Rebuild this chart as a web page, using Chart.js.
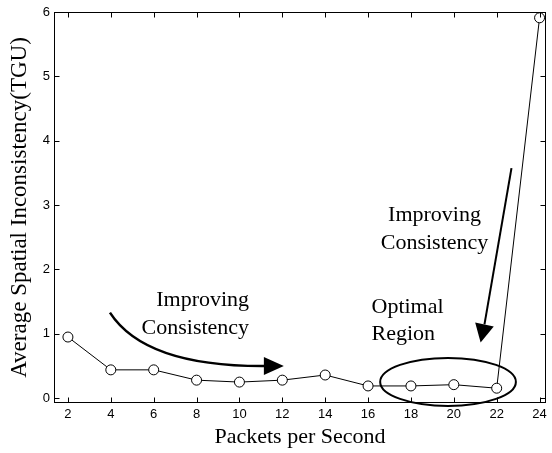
<!DOCTYPE html>
<html>
<head>
<meta charset="utf-8">
<script src="https://cdn.jsdelivr.net/npm/chart.js@4/dist/chart.umd.min.js"></script>
<style>
  html, body { margin: 0; padding: 0; background: #fff; }
  canvas { display: block; }
</style>
</head>
<body>
<canvas id="chart" width="552" height="453"></canvas>
<script>
// Measured consistency versus sending rate
const packetRates   = [2, 4, 6, 8, 10, 12, 14, 16, 18, 20, 22, 24];
const inconsistency = [0.95, 0.44, 0.44, 0.28, 0.25, 0.28, 0.36, 0.19, 0.19, 0.21, 0.155, 5.91];

// Axis ticks and limits
const xTicks = [2, 4, 6, 8, 10, 12, 14, 16, 18, 20, 22, 24];
const yTicks = [0, 1, 2, 3, 4, 5, 6];
const xLimits = [1.35, 24.3];
const yLimits = [-0.075, 6];

// Callout texts
const leftNoteLines  = ['Improving', 'Consistency'];
const rightNoteLines = ['Improving', 'Consistency'];
const regionLines    = ['Optimal', 'Region'];

// Callout anchors, in axis units
const leftNoteAnchor  = { x: 10.45, y: [1.425, 1.0] };     // right-aligned baselines
const rightNoteAnchor = { x: 19.10, y: [2.745, 2.317] };   // centred baselines
const regionAnchor    = { x: 16.16, y: [1.323, 0.908] };   // left-aligned baselines
const curvedArrow   = { start: [3.96, 1.33], ctrl: [5.6, 0.49], base: [11.14, 0.50], tip: [12.07, 0.50] };
const straightArrow = { start: [22.69, 3.575], base: [21.43, 1.146], tip: [21.25, 0.866] };
const optimalRegion = { cx: 19.73, cy: 0.253, rx: 3.165, ry: 0.373 };

const serif = '"Liberation Serif", "Times New Roman", serif';
const sans  = '"Liberation Sans", Arial, Helvetica, sans-serif';

const frameAndNotes = {
  id: 'frameAndNotes',
  afterDraw(chart) {
    const { ctx, chartArea: a, scales: { x, y } } = chart;
    const px = v => x.getPixelForValue(v);
    const py = v => y.getPixelForValue(v);
    ctx.save();

    // box with inward ticks on all sides
    ctx.strokeStyle = '#000';
    ctx.lineWidth = 1;
    const L = Math.round(a.left) + 0.5, R = Math.round(a.right) - 0.5;
    const T = Math.round(a.top) + 0.5, B = Math.round(a.bottom) - 0.5;
    ctx.strokeRect(L, T, R - L, B - T);
    const tl = 5;
    ctx.beginPath();
    x.ticks.forEach(t => {
      const xx = Math.round(px(t.value)) + 0.5;
      ctx.moveTo(xx, B); ctx.lineTo(xx, B - tl);
      ctx.moveTo(xx, T); ctx.lineTo(xx, T + tl);
    });
    y.ticks.forEach(t => {
      const yy = Math.round(py(t.value)) + 0.5;
      ctx.moveTo(L, yy); ctx.lineTo(L + tl, yy);
      ctx.moveTo(R, yy); ctx.lineTo(R - tl, yy);
    });
    ctx.stroke();

    // callout texts
    ctx.fillStyle = '#000';
    ctx.font = '22px ' + serif;
    ctx.textBaseline = 'alphabetic';
    ctx.textAlign = 'right';
    leftNoteLines.forEach((s, i) => ctx.fillText(s, px(leftNoteAnchor.x), py(leftNoteAnchor.y[i])));
    ctx.textAlign = 'center';
    rightNoteLines.forEach((s, i) => ctx.fillText(s, px(rightNoteAnchor.x), py(rightNoteAnchor.y[i])));
    ctx.textAlign = 'left';
    regionLines.forEach((s, i) => ctx.fillText(s, px(regionAnchor.x), py(regionAnchor.y[i])));

    const head = (base, tip, halfW) => {
      const bx = px(base[0]), by = py(base[1]), tx = px(tip[0]), ty = py(tip[1]);
      const dx = tx - bx, dy = ty - by, len = Math.hypot(dx, dy);
      const nx = -dy / len * halfW, ny = dx / len * halfW;
      ctx.beginPath();
      ctx.moveTo(tx, ty);
      ctx.lineTo(bx + nx, by + ny);
      ctx.lineTo(bx - nx, by - ny);
      ctx.closePath();
      ctx.fill();
    };

    // curved arrow along the low-rate part of the curve
    ctx.lineWidth = 2.5;
    ctx.beginPath();
    ctx.moveTo(px(curvedArrow.start[0]), py(curvedArrow.start[1]));
    ctx.quadraticCurveTo(px(curvedArrow.ctrl[0]), py(curvedArrow.ctrl[1]),
                         px(curvedArrow.base[0]) + 1, py(curvedArrow.base[1]));
    ctx.stroke();
    head(curvedArrow.base, curvedArrow.tip, 9);

    // straight arrow down towards the optimal region
    ctx.lineWidth = 2;
    ctx.beginPath();
    ctx.moveTo(px(straightArrow.start[0]), py(straightArrow.start[1]));
    ctx.lineTo(px(straightArrow.base[0]), py(straightArrow.base[1]));
    ctx.stroke();
    head(straightArrow.base, straightArrow.tip, 9.5);

    // ellipse round the optimal region
    const cx = px(optimalRegion.cx), cy = py(optimalRegion.cy);
    const rx = px(optimalRegion.cx + optimalRegion.rx) - cx;
    const ry = cy - py(optimalRegion.cy + optimalRegion.ry);
    ctx.lineWidth = 2;
    ctx.beginPath();
    ctx.ellipse(cx, cy, rx, ry, 0, 0, Math.PI * 2);
    ctx.stroke();

    ctx.restore();
  }
};

new Chart(document.getElementById('chart'), {
  type: 'line',
  data: {
    datasets: [{
      data: packetRates.map((r, i) => ({ x: r, y: inconsistency[i] })),
      borderColor: '#000',
      borderWidth: 1,
      backgroundColor: '#fff',
      pointStyle: 'circle',
      pointRadius: 5,
      pointBorderWidth: 1,
      pointBackgroundColor: '#fff',
      pointBorderColor: '#000',
      tension: 0,
      clip: false
    }]
  },
  options: {
    responsive: false,
    devicePixelRatio: 1,
    animation: false,
    layout: { padding: { top: 12, right: 3, left: 0, bottom: 0 } },
    plugins: { legend: { display: false }, tooltip: { enabled: false } },
    scales: {
      x: {
        type: 'linear',
        min: xLimits[0],
        max: xLimits[1],
        afterBuildTicks: s => { s.ticks = xTicks.map(v => ({ value: v })); },
        afterFit: s => { s.height = 50; },
        grid: { display: false, drawTicks: false },
        border: { display: false },
        ticks: { color: '#000', padding: 4, maxRotation: 0, autoSkip: false,
                 font: { family: sans, size: 13 } },
        title: { display: true, text: 'Packets per Second', color: '#000',
                 font: { family: serif, size: 22, lineHeight: 1.2 }, padding: { bottom: 3, top: 0 } }
      },
      y: {
        type: 'linear',
        min: yLimits[0],
        max: yLimits[1],
        afterBuildTicks: s => { s.ticks = yTicks.map(v => ({ value: v })); },
        afterFit: s => { s.width = 54; },
        grid: { display: false, drawTicks: false },
        border: { display: false },
        ticks: { color: '#000', padding: 4, autoSkip: false,
                 font: { family: sans, size: 13 } },
        title: { display: true, text: 'Average Spatial Inconsistency(TGU)', color: '#000',
                 font: { family: serif, size: 23, lineHeight: 1.2 }, padding: { top: 6, bottom: 0 } }
      }
    }
  },
  plugins: [frameAndNotes]
});
</script>
</body>
</html>
